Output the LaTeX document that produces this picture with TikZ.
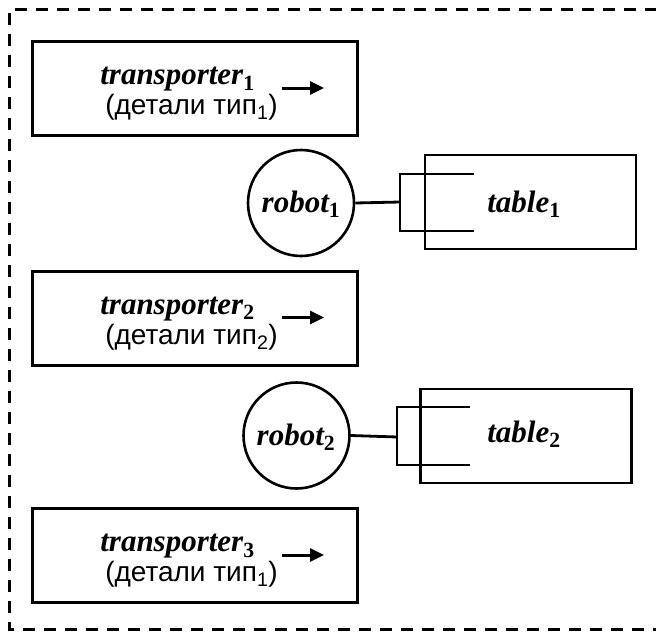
\documentclass[tikz,border=0pt]{standalone}
\usepackage{fontspec}
\setmainfont{Liberation Serif}
\newfontfamily\labelsans{Liberation Sans}
\usetikzlibrary{arrows.meta}
\tikzset{
  frame/.style={line width=2.4pt, dash pattern=on 12pt off 9pt},
  tbox/.style={draw, line width=3pt, minimum width=325pt, minimum height=94pt, inner sep=0pt},
  tabbox/.style={draw, line width=2.6pt, minimum width=211pt, minimum height=94pt, inner sep=0pt},
  robotc/.style={draw, circle, line width=2.6pt, minimum size=106pt, inner sep=0pt},
  itlabel/.style={font=\fontsize{31}{34}\selectfont\bfseries\itshape, inner sep=0pt, anchor=base},
  cyr/.style={font=\labelsans\fontsize{28}{30}\selectfont, inner sep=0pt, anchor=base},
  flow/.style={line width=3pt, -{Triangle[length=14pt,width=13pt]}},
  link/.style={line width=2.8pt},
}
\newcommand{\sub}[1]{\textsubscript{\normalfont\bfseries #1}}
\newcommand{\subr}[1]{\textsubscript{#1}}
\begin{document}
\begin{tikzpicture}[x=1pt,y=-1pt]
  \useasboundingbox (0,0) rectangle (656,634);
  % dashed outline of the cell
  \draw[frame] (657,9.5) -- (9.5,9.5) -- (9.5,629.5) -- (657,629.5);

  % transporters
  \foreach \i/\y/\k in {1/88.5/1, 2/318/2, 3/555.5/1}{
    \node[tbox] (t\i) at (195,\y) {};
    \node[itlabel] (tn\i) at (177.5,\y-4) {transporter\sub{\i}};
    \node[cyr] (tc\i) at (191.5,\y+26) {(детали тип\subr{\k})};
    \coordinate (fa\i) at (282,\y-0.5);
    \coordinate (fb\i) at (324,\y-0.5);
    \draw[flow] (fa\i) -- (fb\i);
  }

  % robot 1 with its table
  \node[robotc] (r1) at (301,203) {};
  \node[itlabel] at (301,212) {robot\sub{1}};
  \node[tabbox] (tb1) at (530.5,202) {};
  \node[itlabel] (tl1) at (524,212) {table\sub{1}};
  \coordinate (g1) at (400,202);
  \coordinate (g1a) at (400,174);
  \coordinate (g1b) at (400,231);
  \coordinate (g1c) at (474,174);
  \coordinate (g1d) at (474,231);
  \draw[link] (r1.east) -- (g1);
  \draw[link] (g1c) -- (g1a) -- (g1b) -- (g1d);

  % robot 2 with its table
  \node[robotc] (r2) at (296.5,435.5) {};
  \node[itlabel] at (296,445) {robot\sub{2}};
  \node[tabbox] (tb2) at (526,436) {};
  \node[itlabel] (tl2) at (524,442) {table\sub{2}};
  \coordinate (g2) at (397,437);
  \coordinate (g2a) at (397,407);
  \coordinate (g2b) at (397,465);
  \coordinate (g2c) at (470,407);
  \coordinate (g2d) at (470,465);
  \draw[link] (r2.east) -- (g2);
  \draw[link] (g2c) -- (g2a) -- (g2b) -- (g2d);
\end{tikzpicture}
\end{document}
